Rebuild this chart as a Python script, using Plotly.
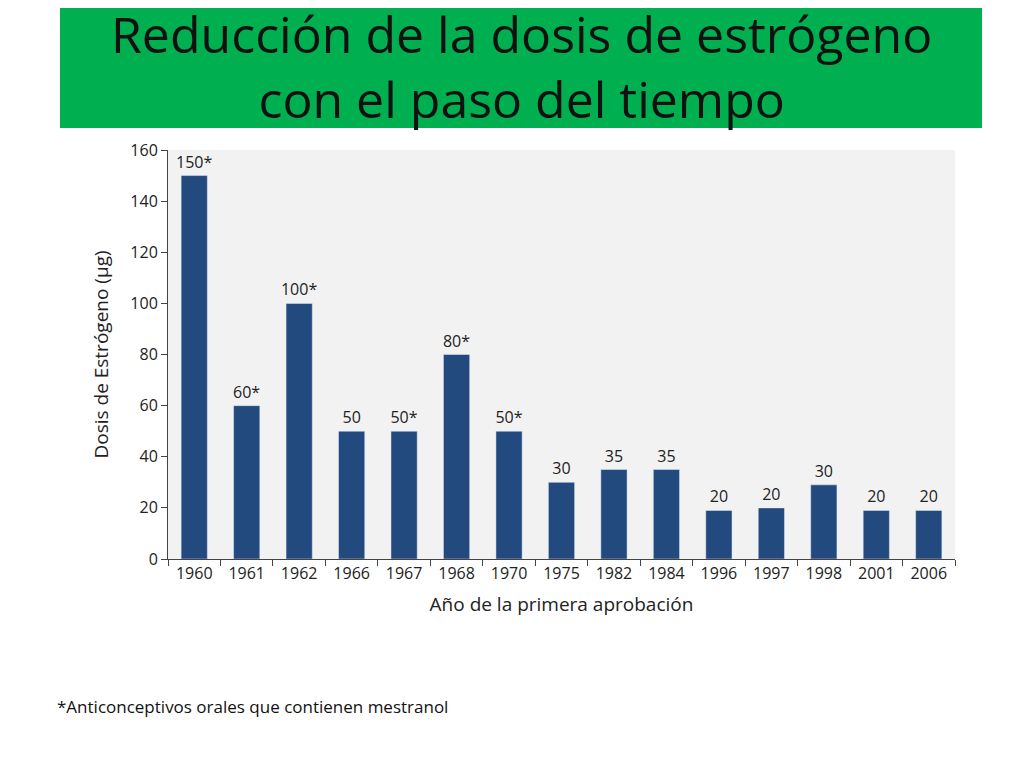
import plotly.graph_objects as go

years = ["1960", "1961", "1962", "1966", "1967", "1968", "1970", "1975",
         "1982", "1984", "1996", "1997", "1998", "2001", "2006"]
dose = [150, 60, 100, 50, 50, 80, 50, 30, 35, 35, 19, 20, 29, 19, 19]
labels = ["150*", "60*", "100*", "50", "50*", "80*", "50*", "30",
          "35", "35", "20", "20", "30", "20", "20"]

font = "Open Sans"
# plot area in page pixels (page is offset by 8px when photographed)
L, R, T, B = 160, 947, 142, 551
W, H = R - L, B - T


def px(x):
    return (x - 8 - L) / W


def py(y):
    return (B - (y - 8)) / H


fig = go.Figure(go.Bar(
    x=years, y=dose, text=labels, textposition="outside",
    textfont=dict(size=16, color="#222"), cliponaxis=False,
    marker=dict(color="#234a7e"), width=0.5,
))

fig.update_layout(
    width=1024, height=768,
    margin=dict(l=L, r=1024 - R, t=T, b=768 - B),
    paper_bgcolor="white", plot_bgcolor="#f2f2f2",
    font=dict(family=font, size=16, color="#222"),
    showlegend=False,
    uniformtext=dict(minsize=16, mode="show"),
    xaxis=dict(showline=True, linecolor="#444", ticks="outside",
               tickson="boundaries", ticklen=6, tickcolor="#444",
               title=dict(text="Año de la primera aprobación", standoff=14)),
    yaxis=dict(range=[0, 160], dtick=20, showline=True, linecolor="#444",
               ticks="outside", ticklen=6, tickcolor="#444", showgrid=False,
               zeroline=False,
               title=dict(text="Dosis de Estrógeno (µg)", standoff=16)),
    shapes=[dict(type="rect", xref="paper", yref="paper", x0=px(60),
                 x1=px(982), y0=py(128), y1=py(0),
                 fillcolor="#00b050", line_width=0, layer="below")],
    annotations=[
        dict(text="Reducción de la dosis de estrógeno<br>con el paso del tiempo",
             xref="paper", yref="paper", x=px(521), y=py(-2),
             yanchor="top", showarrow=False,
             font=dict(size=50, color="#111", family=font)),
        dict(text="*Anticonceptivos orales que contienen mestranol",
             xref="paper", yref="paper", x=px(55), y=py(706),
             xanchor="left", yanchor="middle", showarrow=False,
             font=dict(size=17, color="#111")),
    ],
)

fig.write_html("out.html")
